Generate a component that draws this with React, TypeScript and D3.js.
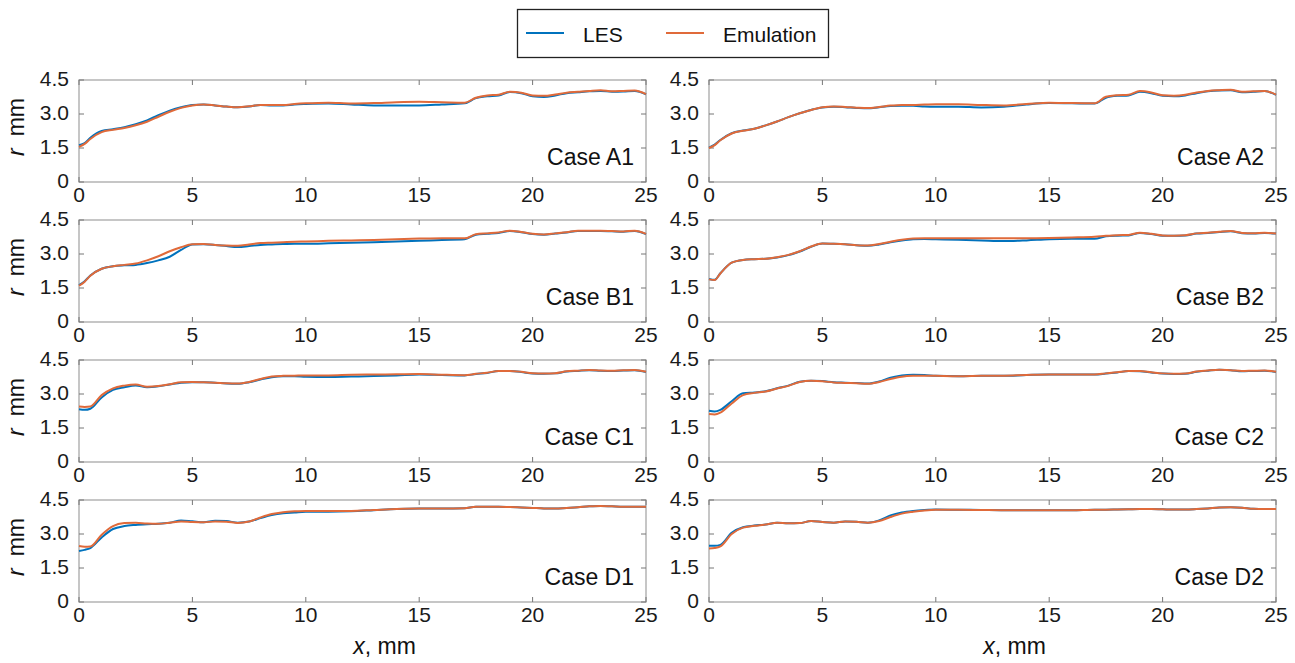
import React, { useRef, useEffect } from "react";
import * as d3 from "d3";

// sampled x positions (mm) shared by every panel
const xs = [0, 0.25, 0.5, 1, 1.5, 2, 2.5, 3, 3.5, 4, 4.5, 5, 5.5, 6, 6.5, 7, 7.5, 8, 8.5, 9, 9.5, 10, 11, 12, 13, 14, 15, 16, 17, 17.5, 18, 18.5, 19, 19.5, 20, 20.5, 21, 21.5, 22, 22.5, 23, 23.5, 24, 24.5, 25];

const a1Les = [1.62, 1.72, 1.95, 2.25, 2.33, 2.42, 2.55, 2.72, 2.95, 3.15, 3.30, 3.40, 3.42, 3.38, 3.33, 3.30, 3.33, 3.40, 3.38, 3.38, 3.42, 3.44, 3.46, 3.42, 3.38, 3.38, 3.38, 3.42, 3.47, 3.70, 3.78, 3.82, 3.97, 3.92, 3.78, 3.75, 3.82, 3.92, 3.96, 4.00, 4.02, 3.98, 3.99, 4.02, 3.87];
const a1Emu = [1.55, 1.68, 1.90, 2.20, 2.30, 2.38, 2.50, 2.66, 2.88, 3.10, 3.27, 3.38, 3.42, 3.38, 3.33, 3.30, 3.34, 3.40, 3.40, 3.40, 3.44, 3.47, 3.50, 3.46, 3.48, 3.52, 3.54, 3.52, 3.50, 3.72, 3.82, 3.85, 3.98, 3.94, 3.82, 3.80, 3.86, 3.94, 3.98, 4.02, 4.05, 4.00, 4.02, 4.04, 3.88];
const a2Les = [1.52, 1.65, 1.85, 2.15, 2.27, 2.35, 2.50, 2.67, 2.86, 3.03, 3.18, 3.29, 3.32, 3.30, 3.27, 3.25, 3.30, 3.35, 3.36, 3.36, 3.33, 3.32, 3.32, 3.29, 3.32, 3.42, 3.48, 3.47, 3.46, 3.72, 3.80, 3.82, 3.98, 3.92, 3.80, 3.78, 3.82, 3.92, 4.00, 4.04, 4.05, 3.96, 3.98, 4.01, 3.84];
const a2Emu = [1.50, 1.63, 1.84, 2.14, 2.26, 2.35, 2.50, 2.67, 2.86, 3.03, 3.18, 3.30, 3.33, 3.31, 3.28, 3.26, 3.31, 3.37, 3.40, 3.40, 3.42, 3.43, 3.43, 3.40, 3.38, 3.44, 3.50, 3.48, 3.47, 3.76, 3.83, 3.85, 4.01, 3.95, 3.83, 3.81, 3.85, 3.95, 4.02, 4.05, 4.07, 3.98, 4.00, 4.02, 3.85];
const b1Les = [1.63, 1.80, 2.05, 2.35, 2.46, 2.50, 2.52, 2.60, 2.72, 2.88, 3.18, 3.42, 3.43, 3.40, 3.35, 3.31, 3.35, 3.40, 3.42, 3.44, 3.45, 3.45, 3.47, 3.50, 3.52, 3.55, 3.58, 3.62, 3.65, 3.85, 3.89, 3.93, 4.02, 3.96, 3.88, 3.85, 3.90, 3.95, 4.02, 4.02, 4.02, 4.00, 3.98, 4.02, 3.88];
const b1Emu = [1.60, 1.78, 2.04, 2.35, 2.46, 2.52, 2.58, 2.72, 2.90, 3.12, 3.30, 3.43, 3.44, 3.40, 3.37, 3.36, 3.42, 3.48, 3.50, 3.52, 3.54, 3.55, 3.58, 3.60, 3.62, 3.65, 3.68, 3.70, 3.69, 3.87, 3.91, 3.95, 4.03, 3.97, 3.89, 3.86, 3.91, 3.96, 4.03, 4.03, 4.03, 4.01, 3.99, 4.03, 3.89];
const b2Les = [1.90, 1.86, 2.15, 2.62, 2.74, 2.77, 2.79, 2.85, 2.95, 3.11, 3.32, 3.46, 3.45, 3.43, 3.39, 3.36, 3.42, 3.52, 3.60, 3.65, 3.66, 3.65, 3.63, 3.60, 3.57, 3.60, 3.65, 3.67, 3.67, 3.78, 3.81, 3.82, 3.93, 3.88, 3.81, 3.80, 3.82, 3.90, 3.93, 3.97, 4.00, 3.92, 3.90, 3.93, 3.90];
const b2Emu = [1.88, 1.85, 2.14, 2.62, 2.74, 2.77, 2.79, 2.86, 2.96, 3.12, 3.33, 3.46, 3.45, 3.43, 3.39, 3.37, 3.44, 3.54, 3.63, 3.68, 3.69, 3.69, 3.70, 3.70, 3.70, 3.70, 3.71, 3.73, 3.76, 3.80, 3.83, 3.84, 3.94, 3.89, 3.82, 3.81, 3.83, 3.91, 3.94, 3.98, 4.01, 3.93, 3.91, 3.94, 3.90];
const c1Les = [2.33, 2.30, 2.35, 2.85, 3.18, 3.30, 3.38, 3.30, 3.34, 3.42, 3.50, 3.52, 3.52, 3.50, 3.46, 3.45, 3.52, 3.64, 3.74, 3.78, 3.78, 3.76, 3.75, 3.77, 3.79, 3.82, 3.86, 3.84, 3.82, 3.88, 3.93, 4.01, 4.01, 3.97, 3.90, 3.89, 3.91, 3.99, 4.02, 4.05, 4.03, 4.02, 4.04, 4.05, 3.97];
const c1Emu = [2.45, 2.43, 2.45, 2.95, 3.25, 3.37, 3.42, 3.32, 3.35, 3.43, 3.52, 3.53, 3.52, 3.50, 3.47, 3.46, 3.53, 3.66, 3.77, 3.80, 3.81, 3.82, 3.82, 3.85, 3.86, 3.87, 3.88, 3.85, 3.83, 3.89, 3.94, 4.02, 4.02, 3.98, 3.91, 3.90, 3.92, 4.00, 4.03, 4.06, 4.04, 4.03, 4.05, 4.06, 3.98];
const c2Les = [2.26, 2.23, 2.30, 2.68, 3.03, 3.07, 3.12, 3.25, 3.37, 3.54, 3.59, 3.57, 3.52, 3.50, 3.48, 3.46, 3.55, 3.72, 3.82, 3.85, 3.84, 3.80, 3.78, 3.80, 3.80, 3.84, 3.86, 3.86, 3.86, 3.90, 3.95, 4.01, 4.00, 3.95, 3.90, 3.88, 3.89, 3.98, 4.03, 4.07, 4.05, 4.00, 4.02, 4.03, 3.97];
const c2Emu = [2.12, 2.10, 2.18, 2.58, 2.95, 3.05, 3.11, 3.24, 3.36, 3.53, 3.58, 3.56, 3.51, 3.49, 3.47, 3.45, 3.53, 3.66, 3.76, 3.80, 3.81, 3.80, 3.78, 3.80, 3.81, 3.84, 3.86, 3.86, 3.86, 3.91, 3.96, 4.02, 4.01, 3.96, 3.91, 3.89, 3.90, 3.99, 4.04, 4.07, 4.05, 4.01, 4.03, 4.04, 3.98];
const d1Les = [2.25, 2.30, 2.38, 2.85, 3.22, 3.35, 3.40, 3.43, 3.45, 3.50, 3.60, 3.56, 3.52, 3.58, 3.57, 3.50, 3.55, 3.70, 3.84, 3.92, 3.95, 3.98, 3.98, 4.00, 4.05, 4.10, 4.12, 4.12, 4.14, 4.20, 4.20, 4.20, 4.19, 4.17, 4.15, 4.13, 4.12, 4.15, 4.18, 4.22, 4.24, 4.22, 4.20, 4.20, 4.20];
const d1Emu = [2.47, 2.44, 2.45, 2.97, 3.35, 3.48, 3.50, 3.46, 3.45, 3.50, 3.55, 3.53, 3.52, 3.55, 3.54, 3.49, 3.55, 3.73, 3.88, 3.96, 4.00, 4.02, 4.02, 4.02, 4.06, 4.10, 4.12, 4.12, 4.14, 4.20, 4.20, 4.20, 4.19, 4.17, 4.15, 4.13, 4.12, 4.15, 4.18, 4.22, 4.24, 4.22, 4.20, 4.20, 4.20];
const d2Les = [2.48, 2.48, 2.52, 3.05, 3.30, 3.37, 3.42, 3.50, 3.47, 3.48, 3.57, 3.53, 3.50, 3.55, 3.54, 3.50, 3.60, 3.82, 3.95, 4.02, 4.06, 4.08, 4.07, 4.06, 4.05, 4.05, 4.05, 4.05, 4.07, 4.07, 4.08, 4.09, 4.10, 4.10, 4.09, 4.08, 4.08, 4.10, 4.13, 4.17, 4.18, 4.16, 4.11, 4.10, 4.10];
const d2Emu = [2.36, 2.38, 2.45, 3.00, 3.28, 3.36, 3.42, 3.50, 3.47, 3.48, 3.57, 3.53, 3.50, 3.55, 3.54, 3.50, 3.57, 3.75, 3.90, 3.98, 4.04, 4.07, 4.07, 4.06, 4.05, 4.05, 4.05, 4.05, 4.07, 4.07, 4.08, 4.09, 4.10, 4.10, 4.09, 4.08, 4.08, 4.10, 4.13, 4.17, 4.18, 4.16, 4.11, 4.10, 4.10];

const cases = ["Case A1", "Case A2", "Case B1", "Case B2", "Case C1", "Case C2", "Case D1", "Case D2"];
const lesSeries = [a1Les, a2Les, b1Les, b2Les, c1Les, c2Les, d1Les, d2Les];
const emuSeries = [a1Emu, a2Emu, b1Emu, b2Emu, c1Emu, c2Emu, d1Emu, d2Emu];
const xTicks = [0, 5, 10, 15, 20, 25];
const yTicks = [0, 1.5, 3.0, 4.5];
const seriesNames = ["LES", "Emulation"];

const FONT = "'Liberation Sans', Arial, sans-serif";
const LES_COLOR = "#0072BD";
const EMU_COLOR = "#E06A3A";

const App = () => {
  const svgRef = useRef();

  useEffect(() => {
    const svg = d3.select(svgRef.current);
    svg.selectAll("*").remove();
    const width = 1295;
    const height = 663;
    svg.attr("width", width).attr("height", height);

    const colLeft = [79, 709];
    const plotW = 567;
    const rowTop = [80, 220, 360, 500];
    const plotH = 102;

    cases.forEach((name, i) => {
      const col = i % 2;
      const row = Math.floor(i / 2);
      const x0 = colLeft[col];
      const y0 = rowTop[row];

      const x = d3.scaleLinear().domain([0, 25]).range([x0, x0 + plotW]);
      const y = d3.scaleLinear().domain([0, 4.5]).range([y0 + plotH, y0]);

      const g = svg.append("g");

      // frame
      g.append("rect")
        .attr("x", x0)
        .attr("y", y0)
        .attr("width", plotW)
        .attr("height", plotH)
        .attr("fill", "white")
        .attr("stroke", "#a8a8a8")
        .attr("stroke-width", 1.3);

      // inward ticks on all four sides
      const tl = 5;
      xTicks.forEach((t) => {
        g.append("line").attr("x1", x(t)).attr("x2", x(t)).attr("y1", y0 + plotH).attr("y2", y0 + plotH - tl).attr("stroke", "#777");
        g.append("line").attr("x1", x(t)).attr("x2", x(t)).attr("y1", y0).attr("y2", y0 + tl).attr("stroke", "#777");
        g.append("text")
          .attr("x", x(t))
          .attr("y", y0 + plotH + 20)
          .attr("text-anchor", "middle")
          .attr("font-family", FONT)
          .attr("font-size", 21)
          .attr("fill", "#1a1a1a")
          .text(t);
      });
      yTicks.forEach((t) => {
        g.append("line").attr("x1", x0).attr("x2", x0 + tl).attr("y1", y(t)).attr("y2", y(t)).attr("stroke", "#777");
        g.append("line").attr("x1", x0 + plotW).attr("x2", x0 + plotW - tl).attr("y1", y(t)).attr("y2", y(t)).attr("stroke", "#777");
        g.append("text")
          .attr("x", x0 - 10)
          .attr("y", y(t) + 6)
          .attr("text-anchor", "end")
          .attr("font-family", FONT)
          .attr("font-size", 21)
          .attr("fill", "#1a1a1a")
          .text(t === 0 ? "0" : t.toFixed(1));
      });

      const line = d3
        .line()
        .x((d) => x(d[0]))
        .y((d) => y(d[1]))
        .curve(d3.curveMonotoneX);

      [lesSeries[i], emuSeries[i]].forEach((vals, k) => {
        g.append("path")
          .datum(xs.map((xv, j) => [xv, vals[j]]))
          .attr("d", line)
          .attr("fill", "none")
          .attr("stroke", k === 0 ? LES_COLOR : EMU_COLOR)
          .attr("stroke-width", 2);
      });

      g.append("text")
        .attr("x", x0 + plotW - 12)
        .attr("y", y0 + plotH - 17)
        .attr("text-anchor", "end")
        .attr("font-family", FONT)
        .attr("font-size", 23)
        .attr("fill", "#111")
        .text(name);

      // y label only on the left column
      if (col === 0) {
        const yl = g
          .append("text")
          .attr("transform", `translate(24,${y0 + 47}) rotate(-90)`)
          .attr("text-anchor", "middle")
          .attr("font-family", FONT)
          .attr("font-size", 23)
          .attr("fill", "#111");
        yl.append("tspan").attr("font-style", "italic").text("r");
        yl.append("tspan").attr("dx", 12).text("mm");
      }

      // x label only on the bottom row
      if (row === 3) {
        const xl = g
          .append("text")
          .attr("x", x0 + plotW / 2 + 22)
          .attr("y", 654)
          .attr("text-anchor", "middle")
          .attr("font-family", FONT)
          .attr("font-size", 23)
          .attr("fill", "#111");
        xl.append("tspan").attr("font-style", "italic").text("x");
        xl.append("tspan").text(", mm");
      }
    });

    // legend
    const lg = svg.append("g");
    lg.append("rect")
      .attr("x", 517.5)
      .attr("y", 9.5)
      .attr("width", 311)
      .attr("height", 48)
      .attr("fill", "white")
      .attr("stroke", "#222")
      .attr("stroke-width", 1.3);
    const legendX = [526, 666];
    seriesNames.forEach((s, k) => {
      lg.append("line")
        .attr("x1", legendX[k])
        .attr("x2", legendX[k] + 38)
        .attr("y1", 33)
        .attr("y2", 33)
        .attr("stroke", k === 0 ? LES_COLOR : EMU_COLOR)
        .attr("stroke-width", 2);
      lg.append("text")
        .attr("x", legendX[k] + 57)
        .attr("y", 42)
        .attr("font-family", FONT)
        .attr("font-size", 21)
        .attr("fill", "#111")
        .text(s);
    });
  }, []);

  return (
    <div style={{ position: "absolute", left: 0, top: 0 }}>
      <svg ref={svgRef}></svg>
    </div>
  );
};

export default App;
